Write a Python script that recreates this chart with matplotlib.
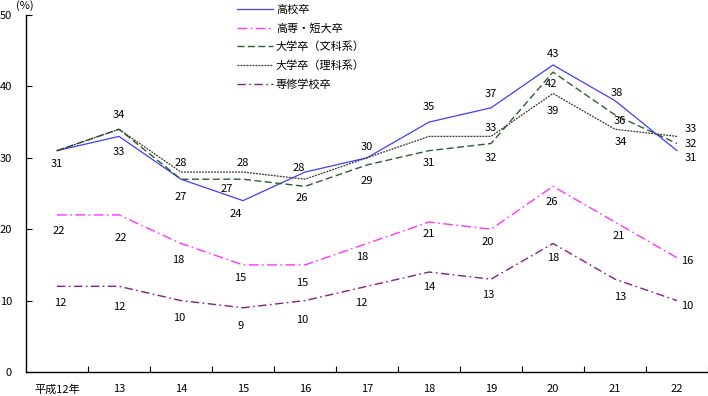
import numpy as np
import matplotlib
matplotlib.use("Agg")
import matplotlib.pyplot as plt

plt.rcParams['font.family'] = ['Noto Sans CJK JP', 'DejaVu Sans']

# データ（%）
years = ['平成12年', '13', '14', '15', '16', '17', '18', '19', '20', '21', '22']
koko = [31, 33, 27, 24, 28, 30, 35, 37, 43, 38, 31]          # 高校卒
kosen_tandai = [22, 22, 18, 15, 15, 18, 21, 20, 26, 21, 16]  # 高専・短大卒
daigaku_bun = [31, 34, 27, 27, 26, 29, 31, 32, 42, 36, 32]   # 大学卒（文科系）
daigaku_ri = [31, 34, 28, 28, 27, 30, 33, 33, 39, 34, 33]    # 大学卒（理科系）
senshu = [12, 12, 10, 9, 10, 12, 14, 13, 18, 13, 10]         # 専修学校卒

# ラベル位置（ピクセル単位のずれ, None はラベルなし）
lab_koko = [(0, -13), (0, -16), None, (-7, -13), (-6, 4), (0, 11), (0, 15), (0, 14), (0, 11), (2, 8), (14, -7)]
lab_bun = [None, None, (0, -18), (-16, -10), (-3, -12), (0, -16), (0, -12), (0, -14), (-2, -12), (5, -6), (14, 0)]
lab_ri = [None, (0, 14), (0, 9), (0, 9), None, None, None, (0, 8), (0, -17), (6, -13), (14, 7)]
lab_kosen = [(2, -16), (2, -23), (-3, -17), (-3, -13), (-3, -18), (-5, -14), (0, -12), (-3, -13), (-1, -16), (4, -14), (10, -3)]
lab_senshu = [(3, -17), (0, -21), (-2, -17), (-2, -18), (-3, -19), (-6, -17), (0, -15), (-3, -16), (0, -15), (5, -18), (10, -5)]

fig = plt.figure(figsize=(7.08, 3.96), dpi=100)
ax = fig.add_axes([26 / 708, 24 / 396, 682 / 708, 357 / 396])

x = np.arange(len(years))
series = [
    (koko, '高校卒', dict(color='#3F3FFF', lw=0.9, ls='-'), lab_koko),
    (kosen_tandai, '高専・短大卒', dict(color='#FF33FF', lw=1.0, dashes=(7, 2.5, 1.2, 2.5)), lab_kosen),
    (daigaku_bun, '大学卒（文科系）', dict(color='#2E5E2E', lw=1.0, dashes=(5, 2.5)), lab_bun),
    (daigaku_ri, '大学卒（理科系）', dict(color='#333333', lw=0.9, dashes=(1.5, 0.9)), lab_ri),
    (senshu, '専修学校卒', dict(color='#8B1A8B', lw=1.0, dashes=(6, 2.5, 1.2, 2.5)), lab_senshu),
]

fs = 8

handles = []
for vals, name, style, labs in series:
    ln, = ax.plot(x, vals, label=name, **style)
    handles.append(ln)
    for xi, v, off in zip(x, vals, labs):
        if off is None:
            continue
        ax.annotate(str(v), (xi, v), xytext=off, textcoords='offset pixels',
                    ha='center', va='center', fontsize=fs, color='black')

ax.set_xlim(-0.5, len(years) - 0.5)
ax.set_ylim(0, 50)
ax.set_yticks([0, 10, 20, 30, 40, 50])
ax.set_xticks(x)
ax.set_xticklabels(years)
ax.set_xticks(np.arange(0.5, len(years), 1.0), minor=True)
ax.tick_params(axis='x', which='major', length=0, pad=9, labelsize=fs)
ax.tick_params(axis='x', which='minor', direction='in', length=4, width=0.8)
ax.tick_params(axis='y', direction='in', length=4, width=0.8, pad=10, labelsize=fs)
for s in ['top', 'right']:
    ax.spines[s].set_visible(False)
for s in ['left', 'bottom']:
    ax.spines[s].set_linewidth(1.0)

fig.text(25 / 708, 1 - 6 / 396, '(%)', ha='center', va='center', fontsize=fs)

fig.legend(handles=handles, loc='upper left', bbox_to_anchor=(237 / 708, 1 - 5 / 396),
           frameon=False, fontsize=fs, borderaxespad=0, borderpad=0,
           handlelength=3.2, handletextpad=0.3, labelspacing=0.72)

fig.savefig('out.png', dpi=100)
